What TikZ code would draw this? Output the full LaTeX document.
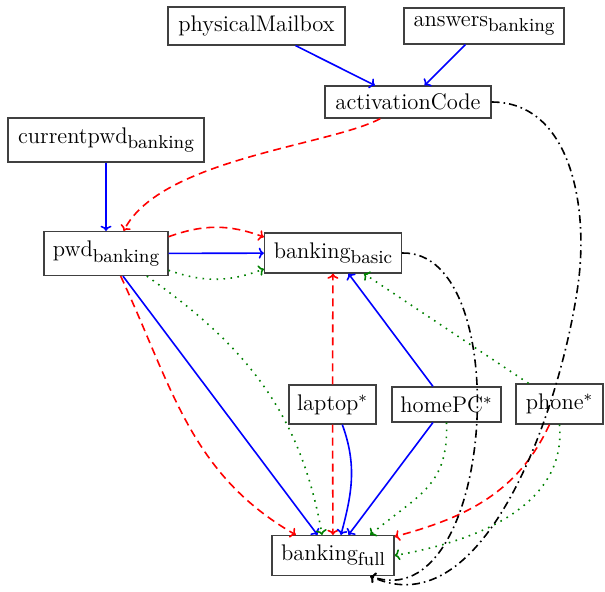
\documentclass[tikz,border=0pt]{standalone}
\usepackage{amsmath}
\usetikzlibrary{arrows.meta}
\newcommand{\subtxt}[1]{\raisebox{-2.6pt}{\fontsize{9.3}{10}\selectfont #1}}
\begin{document}
\begin{tikzpicture}[x=0.5pt,y=0.5pt,
  box/.style={draw=black!75, line width=0.6pt, inner sep=0pt, font=\fontsize{11.3}{13.5}\selectfont},
  edge/.style={-{To[length=2.6pt,width=5.5pt]}, line width=0.8pt},
  solidblue/.style={edge, blue},
  dashred/.style={edge, red, dash pattern=on 4pt off 2.5pt},
  dotgreen/.style={edge, green!50!black, dash pattern=on 0.8pt off 2.7pt},
  dashdotblack/.style={edge, black, dash pattern=on 4pt off 2pt on 0.8pt off 2pt},
]
\useasboundingbox (0,0) rectangle (605,-591);

\node[box, minimum width=88.5pt, minimum height=19pt] (pm) at (256.5,-26) {physicalMailbox};
\node[box, minimum width=80pt, minimum height=18pt] (ans) at (484,-26) {answers\subtxt{banking}};
\node[box, minimum width=83pt, minimum height=16pt] (ac) at (408,-102) {activationCode};
\node[box, minimum width=98pt, minimum height=22pt] (cur) at (106,-140) {currentpwd\subtxt{banking}};
\node[box, minimum width=62pt, minimum height=22pt] (pwd) at (106,-253.5) {pwd\subtxt{banking}};
\node[box, minimum width=68.5pt, minimum height=20pt] (basic) at (333,-253) {banking\subtxt{basic}};
\node[box, minimum width=43.5pt, minimum height=19.5pt] (laptop) at (332.5,-404.5) {laptop$^{*}$};
\node[box, minimum width=54.5pt, minimum height=17.5pt] (home) at (446.5,-404.5) {homePC$^{*}$};
\node[box, minimum width=43.5pt, minimum height=20pt] (phone) at (559.5,-404) {phone$^{*}$};
\node[box, minimum width=61pt, minimum height=20pt] (full) at (333,-555.5) {banking\subtxt{full}};

\coordinate (bendB) at (578,-285);

% top
\draw[solidblue] (pm) -- (ac);
\draw[solidblue] (ans) -- (ac);
\draw[solidblue] (cur) -- (pwd);
\draw[dashred] (ac.-149) .. controls +(-51,-27) and +(37,72) .. (pwd.52);

% pwd -> basic
\draw[dashred] (pwd.15) to[bend left=20] (basic.167);
\draw[solidblue] (pwd) -- (basic);
\draw[dotgreen] (pwd.-15) to[bend right=20] (basic.-167);

% pwd -> full
\draw[dashred] (pwd.-57) to[out=-65,in=150] (full.151);
\draw[solidblue] (pwd) -- (full);
\draw[dotgreen] (pwd.-29) to[out=-35,in=100] (full.118);

% laptop
\draw[dashred] (laptop) -- (basic);
\draw[dashred] (laptop) -- (full);
\draw[solidblue] (laptop.-64) to[out=-70,in=75] (full.69);

% homePC
\draw[solidblue] (home) -- (basic);
\draw[solidblue] (home) -- (full);
\draw[dotgreen] (home.south) to[out=-88,in=40,looseness=1.2] (full.29);

% phone
\draw[dotgreen] (phone) -- (basic);
\draw[dashred] (phone.-116) to[out=-115,in=15] (full.17);
\draw[dotgreen] (phone.south) to[out=-85,in=10] (full.east);

% black dash-dot
\draw[dashdotblack] (basic.east) .. controls +(115,3) and +(125,-44.5) .. (full.-29);
\draw[dashdotblack] (ac.east) to[out=0,in=82] (bendB) to[out=-98,in=-25,looseness=0.9] (full.-29);
\end{tikzpicture}
\end{document}
